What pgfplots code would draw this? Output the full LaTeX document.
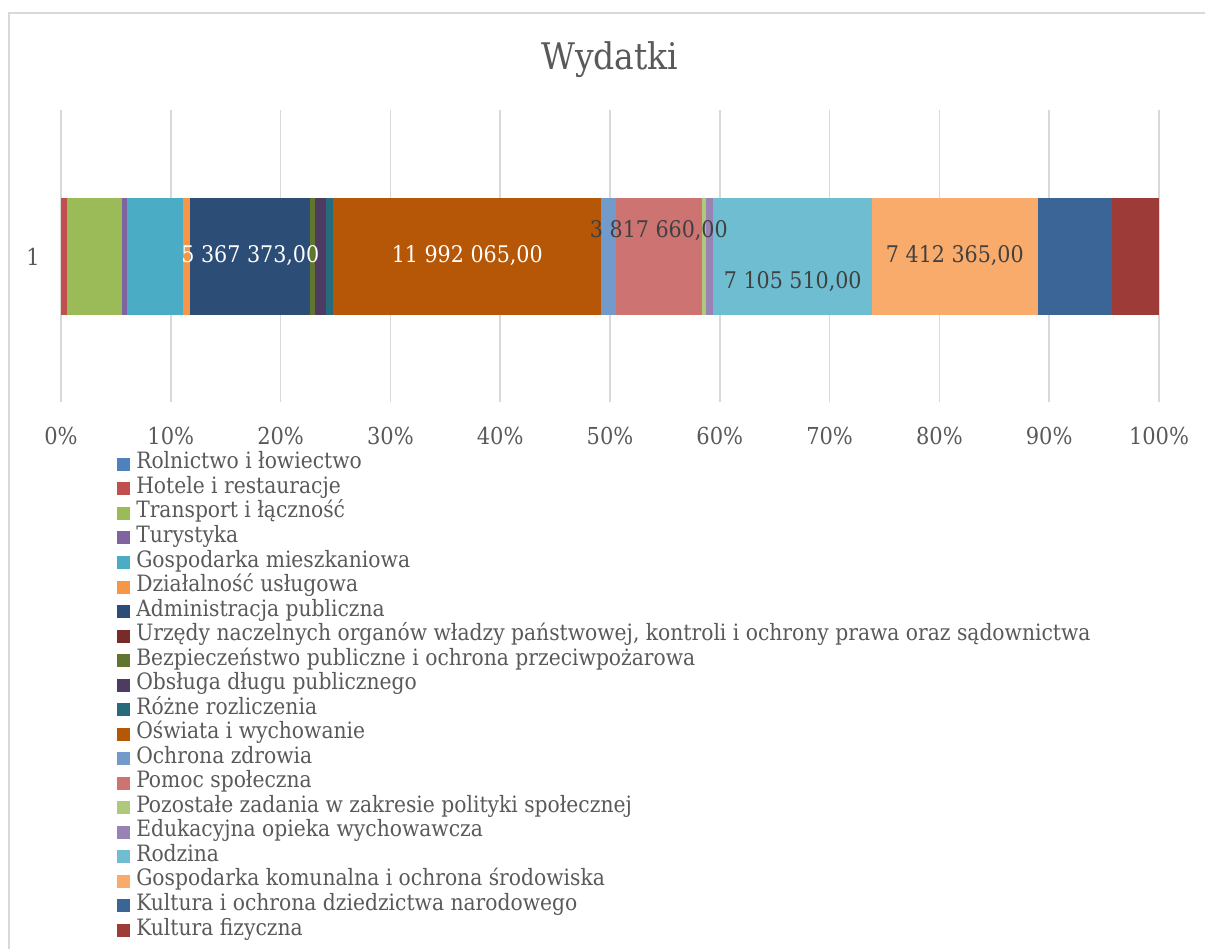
\documentclass[border=0pt]{standalone}
\usepackage{fontspec}
\setmainfont{DejaVu Serif Condensed}
\usepackage{pgfplots}
\pgfplotsset{compat=1.18}
\definecolor{gridgray}{HTML}{D9D9D9}
\definecolor{txtgray}{HTML}{595959}
\definecolor{lblgray}{HTML}{404040}
\definecolor{c1}{HTML}{4F81BD}
\definecolor{c2}{HTML}{C0504D}
\definecolor{c3}{HTML}{9BBB59}
\definecolor{c4}{HTML}{8064A2}
\definecolor{c5}{HTML}{4BACC6}
\definecolor{c6}{HTML}{F79646}
\definecolor{c7}{HTML}{2C4D75}
\definecolor{c8}{HTML}{772C2A}
\definecolor{c9}{HTML}{5F7530}
\definecolor{c10}{HTML}{4D3B62}
\definecolor{c11}{HTML}{276A7C}
\definecolor{c12}{HTML}{B65708}
\definecolor{c13}{HTML}{729ACA}
\definecolor{c14}{HTML}{CD7371}
\definecolor{c15}{HTML}{AFC97A}
\definecolor{c16}{HTML}{9983B5}
\definecolor{c17}{HTML}{6FBDD1}
\definecolor{c18}{HTML}{F9AB6B}
\definecolor{c19}{HTML}{3A6596}
\definecolor{c20}{HTML}{9D3B38}
\tikzset{lbl/.style={font=\fontsize{17.2}{20}\selectfont, anchor=center}}
\begin{document}
\begin{tikzpicture}[x=1pt,y=1pt]
\useasboundingbox (-45.75,-410.25) rectangle (858,301.5);
\draw[color=gridgray, line width=1.1pt] (-39,-410.25) -- (-39,291.75) -- (858,291.75);
\begin{axis}[
  at={(0,0)}, anchor=south west, scale only axis,
  width=823.5pt, height=219pt,
  xbar stacked, reverse stacked plots=false, bar width=87.75pt,
  xmin=0, xmax=100, ymin=0.5, ymax=1.5,
  xtick={0,10,20,30,40,50,60,70,80,90,100},
  xticklabels={0\%,10\%,20\%,30\%,40\%,50\%,60\%,70\%,80\%,90\%,100\%},
  ytick={1}, yticklabels={1},
  axis line style={draw=none}, major tick length=0pt,
  xmajorgrids, grid style={color=gridgray, line width=1.1pt},
  x filter/.expression={x*100/49168973},
  ticklabel style={font=\fontsize{17.5}{20}\selectfont, text=txtgray},
  xticklabel style={anchor=base, yshift=-32pt},
  yticklabel style={anchor=base, xshift=-21pt, yshift=-6.8pt},
  title={Wydatki},
  title style={font=\fontsize{27.5}{32}\selectfont, text=txtgray, at={(0.5,1)}, anchor=base, yshift=24.75pt},
  legend cell align=left,
  legend image code/.code={\fill[#1,draw=none] (0pt,-4.875pt) rectangle (9.75pt,4.875pt);},
  legend style={draw=none, fill=none, at={(0.0510,-0.1705)}, anchor=north west,
    inner sep=0pt, row sep=0pt, font=\fontsize{16.9}{19}\selectfont, text=txtgray,
    nodes={inner xsep=4.5pt, inner ysep=0pt, text height=12.6pt, text depth=5.8pt}},
]
\addplot[fill=c1,draw=none] coordinates {(20000,1)};
\addplot[fill=c2,draw=none] coordinates {(270000,1)};
\addplot[fill=c3,draw=none] coordinates {(2460000,1)};
\addplot[fill=c4,draw=none] coordinates {(220000,1)};
\addplot[fill=c5,draw=none] coordinates {(2510000,1)};
\addplot[fill=c6,draw=none] coordinates {(315000,1)};
\addplot[fill=c7,draw=none] coordinates {(5367373,1)};
\addplot[fill=c8,draw=none] coordinates {(10000,1)};
\addplot[fill=c9,draw=none] coordinates {(220000,1)};
\addplot[fill=c10,draw=none] coordinates {(490000,1)};
\addplot[fill=c11,draw=none] coordinates {(315000,1)};
\addplot[fill=c12,draw=none] coordinates {(11992065,1)};
\addplot[fill=c13,draw=none] coordinates {(674000,1)};
\addplot[fill=c14,draw=none] coordinates {(3817660,1)};
\addplot[fill=c15,draw=none] coordinates {(220000,1)};
\addplot[fill=c16,draw=none] coordinates {(315000,1)};
\addplot[fill=c17,draw=none] coordinates {(7105510,1)};
\addplot[fill=c18,draw=none] coordinates {(7412365,1)};
\addplot[fill=c19,draw=none] coordinates {(3320000,1)};
\addplot[fill=c20,draw=none] coordinates {(2115000,1)};
\legend{Rolnictwo i łowiectwo, Hotele i restauracje, Transport i łączność, Turystyka,
  Gospodarka mieszkaniowa, Działalność usługowa, Administracja publiczna,
  {Urzędy naczelnych organów władzy państwowej, kontroli i ochrony prawa oraz sądownictwa},
  Bezpieczeństwo publiczne i ochrona przeciwpożarowa, Obsługa długu publicznego,
  Różne rozliczenia, Oświata i wychowanie, Ochrona zdrowia, Pomoc społeczna,
  Pozostałe zadania w zakresie polityki społecznej, Edukacyjna opieka wychowawcza,
  Rodzina, Gospodarka komunalna i ochrona środowiska,
  Kultura i ochrona dziedzictwa narodowego, Kultura fizyczna}
\node[lbl, text=white] at (rel axis cs:0.17244,0.5) {5 367 373,00};
\node[lbl, text=white] at (rel axis cs:0.37002,0.5) {11 992 065,00};
\node[lbl, text=lblgray, yshift=19pt] at (rel axis cs:0.5445,0.5) {3 817 660,00};
\node[lbl, text=lblgray, yshift=-19pt] at (rel axis cs:0.66645,0.5) {7 105 510,00};
\node[lbl, text=lblgray] at (rel axis cs:0.81409,0.5) {7 412 365,00};
\end{axis}
\end{tikzpicture}
\end{document}
